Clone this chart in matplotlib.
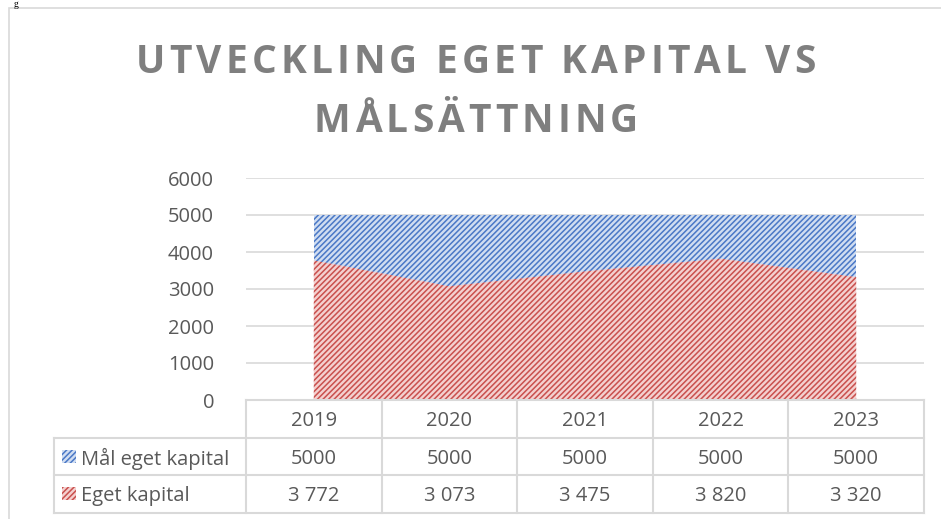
import matplotlib
matplotlib.use("Agg")
import matplotlib.pyplot as plt
from matplotlib.font_manager import FontProperties
from matplotlib.patches import Rectangle
import matplotlib.transforms as mtransforms

# data
years = ["2019", "2020", "2021", "2022", "2023"]
mal_eget_kapital = [5000, 5000, 5000, 5000, 5000]
eget_kapital = [3772, 3073, 3475, 3820, 3320]
series_names = ["Mål eget kapital", "Eget kapital"]
yticks = [0, 1000, 2000, 3000, 4000, 5000, 6000]
title_lines = ["UTVECKLING EGET KAPITAL VS", "MÅLSÄTTNING"]

W, H = 941, 519
plt.rcParams['font.family'] = ['Open Sans', 'DejaVu Sans']
plt.rcParams['hatch.linewidth'] = 1.1

fig = plt.figure(figsize=(W / 100, H / 100), dpi=100)

def fx(px):
    return px / W

def fy(py):
    return 1 - py / H

grey_txt = "#595959"
grid_col = "#d9d9d9"
blue_face, blue_hatch = "#d0ddf1", "#4a78c6"
red_face, red_hatch = "#f4d0cf", "#c9504d"

# chart border (partly off the image)
fig.add_artist(Rectangle((fx(9), fy(530)), fx(960) - fx(9), fy(8) - fy(530),
                         transform=fig.transFigure, fill=False,
                         edgecolor=grid_col, lw=1.2))
fig.text(fx(14), fy(0), "g", fontsize=7, color="black", va="top",
         family=["Liberation Serif"])

# plot area
ax = fig.add_axes([fx(246), fy(400), fx(924) - fx(246), fy(178) - fy(400)])
x = list(range(len(years)))
ax.fill_between(x, 0, mal_eget_kapital, facecolor=blue_face, edgecolor=blue_hatch,
                hatch="//////", linewidth=0)
ax.fill_between(x, 0, eget_kapital, facecolor=red_face, edgecolor=red_hatch,
                hatch="//////", linewidth=0)
ax.set_xlim(-0.5, len(years) - 0.5)
ax.set_ylim(0, 6000)
ax.set_yticks(yticks)
ax.set_yticklabels([str(t) for t in yticks])
ax.tick_params(axis="y", length=0, pad=23, labelsize=14.5, labelcolor=grey_txt)
ax.set_xticks([])
for s in ax.spines.values():
    s.set_visible(False)
ax.grid(axis="y", color=grid_col, lw=1.2)
ax.set_axisbelow(True)

# data table below the plot
tr = mtransforms.blended_transform_factory(ax.transData, fig.transFigure)
row_top, row_h = 400, 37.5
n = len(years)
lc = dict(color=grid_col, lw=1.5, clip_on=False)
# horizontal lines
fig.add_artist(plt.Line2D([-0.5, n - 0.5], [fy(row_top)] * 2, transform=tr, **lc))
for r in range(1, 4):
    yy = fy(row_top + r * row_h)
    fig.add_artist(plt.Line2D([fx(54), fx(924)], [yy, yy], transform=fig.transFigure, **lc))
# vertical lines
for i in range(n + 1):
    fig.add_artist(plt.Line2D([i - 0.5, i - 0.5], [fy(row_top), fy(row_top + 3 * row_h)],
                              transform=tr, **lc))
fig.add_artist(plt.Line2D([fx(54), fx(54)], [fy(row_top + row_h), fy(row_top + 3 * row_h)],
                          transform=fig.transFigure, **lc))

cell_fs = 14.5
for i, yr in enumerate(years):
    fig.text(i, fy(row_top + 0.5 * row_h), yr, transform=tr, ha="center", va="center_baseline",
             fontsize=cell_fs, color=grey_txt)
    fig.text(i, fy(row_top + 1.5 * row_h), str(mal_eget_kapital[i]), transform=tr,
             ha="center", va="center_baseline", fontsize=cell_fs, color=grey_txt)
    fig.text(i, fy(row_top + 2.5 * row_h), f"{eget_kapital[i]:,}".replace(",", " "),
             transform=tr, ha="center", va="center_baseline", fontsize=cell_fs, color=grey_txt)

for r, (name, fc, hc) in enumerate(zip(series_names, [blue_face, red_face], [blue_hatch, red_hatch])):
    yc = row_top + (1.5 + r) * row_h
    fig.add_artist(Rectangle((fx(62), fy(yc + 6.5)), fx(14), fy(0) - fy(13),
                             transform=fig.transFigure, facecolor=fc, edgecolor=hc,
                             hatch="//////", linewidth=0))
    fig.text(fx(81), fy(yc), name, ha="left", va="center_baseline", fontsize=cell_fs,
             color=grey_txt)

# title with letter spacing
renderer = fig.canvas.get_renderer()
tprop = FontProperties(family=["Open Sans"], weight="bold", size=28)

def char_widths(s):
    out = []
    for ch in s:
        if ch == " ":
            w = renderer.get_text_width_height_descent("A A", tprop, ismath=False)[0] - \
                renderer.get_text_width_height_descent("AA", tprop, ismath=False)[0]
        else:
            w = renderer.get_text_width_height_descent(ch, tprop, ismath=False)[0]
        out.append(w)
    return out

w1 = char_widths(title_lines[0])
gap = (680 - sum(w1)) / (len(w1) - 1)
for line, base in zip(title_lines, [73, 132]):
    ws = char_widths(line)
    total = sum(ws) + gap * (len(ws) - 1)
    xpos = 476 - total / 2
    for ch, w in zip(line, ws):
        if ch != " ":
            fig.text(fx(xpos), fy(base), ch, fontproperties=tprop, color="#7f7f7f",
                     ha="left", va="baseline")
        xpos += w + gap

fig.savefig("out.png", dpi=100)
